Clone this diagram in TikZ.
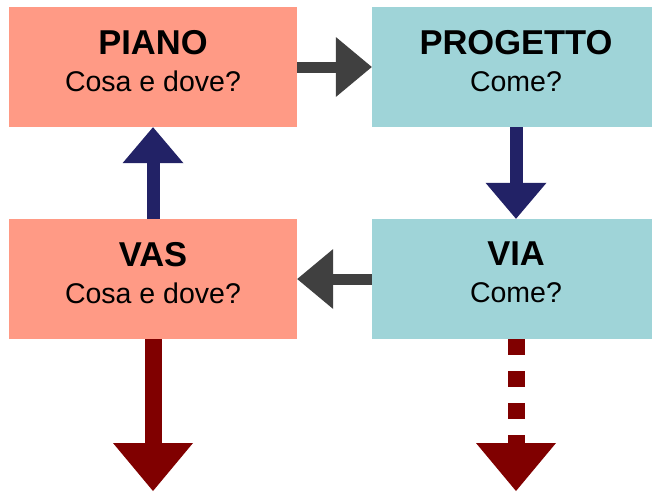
\documentclass[tikz,border=0pt]{standalone}
\usepackage{fontspec}
\setmainfont{Liberation Sans}
\usetikzlibrary{arrows.meta}
\definecolor{salmonbox}{HTML}{FF9A85}
\definecolor{tealbox}{HTML}{9FD4D8}
\definecolor{arrowgray}{HTML}{404040}
\definecolor{arrownavy}{HTML}{222266}
\definecolor{arrowred}{HTML}{800000}
\begin{document}
\begin{tikzpicture}[x=1pt,y=-1pt,
  box/.style={minimum width=288pt,minimum height=120pt,inner sep=0pt,align=center,
    font=\fontsize{28.5}{37}\selectfont,text depth=13pt},
  grayarrow/.style={draw=arrowgray,line width=11pt,-{Triangle[length=36pt,width=60pt,line width=0pt]}},
  navyarrow/.style={draw=arrownavy,line width=13pt,-{Triangle[length=36pt,width=61pt,line width=0pt]}},
  redarrow/.style={draw=arrowred,line width=17pt,-{Triangle[length=48pt,width=80pt,line width=0pt]}}]
\useasboundingbox (0,0) rectangle (652,491);
% the four boxes
\node[box,fill=salmonbox] (piano) at (153,67) {\textbf{\fontsize{34.5}{37}\selectfont PIANO}\\Cosa e dove?};
\node[box,fill=tealbox] (progetto) at (516,67) {\textbf{\fontsize{34.5}{37}\selectfont PROGETTO}\\Come?};
\node[box,fill=salmonbox] (vas) at (153,279) {\textbf{\fontsize{34.5}{37}\selectfont VAS}\\Cosa e dove?};
\node[box,fill=tealbox] (via) at (516,279) {\textbf{\fontsize{34.5}{37}\selectfont VIA}\\Come?};
% arrows between them
\draw[grayarrow] (piano.east) -- (progetto.west);
\draw[navyarrow] (progetto.south) -- (via.north);
\draw[grayarrow] (via.west) -- (vas.east);
\draw[navyarrow] (vas.north) -- (piano.south);
% outgoing arrows
\coordinate (vasend) at (153,491);
\coordinate (viaend) at (516,491);
\draw[redarrow] (vas.south) -- (vasend);
\draw[redarrow,dash pattern=on 16pt off 16pt] (via.south) -- (viaend);
\end{tikzpicture}
\end{document}
